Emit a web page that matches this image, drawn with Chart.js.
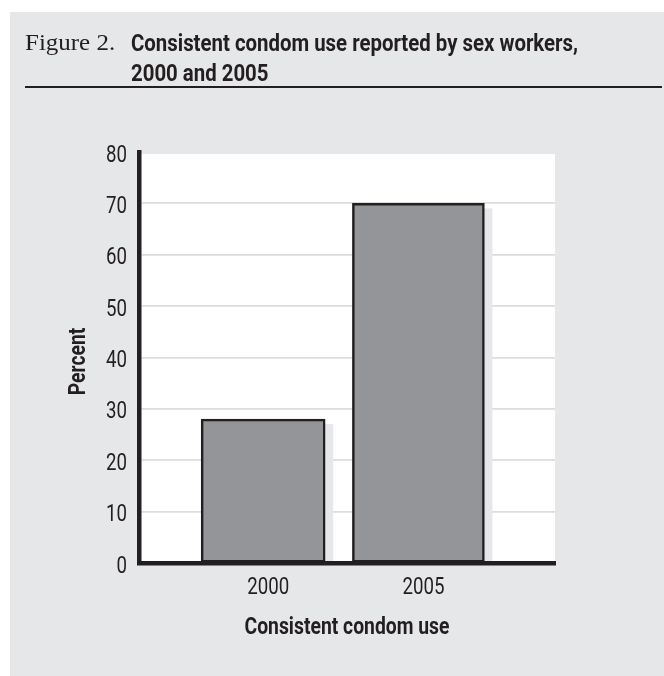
<!DOCTYPE html>
<html>
<head>
<meta charset="utf-8">
<script src="https://cdn.jsdelivr.net/npm/chart.js@4/dist/chart.umd.min.js"></script>
<style>
  html, body { margin: 0; padding: 0; background: #ffffff; }
  #page { position: relative; width: 664px; height: 676px; overflow: hidden; }
  #panel { position: absolute; left: 10px; top: 12px; width: 654px; height: 664px; background: #e6e7e8; }
  #rule { position: absolute; left: 25px; top: 86px; width: 637px; height: 1.5px; background: #231f20; }
  #chart { position: absolute; left: 0; top: 0; }
</style>
</head>
<body>
<div id="page">
  <div id="panel"></div>
  <div id="rule"></div>
  <canvas id="chart" width="664" height="676"></canvas>
</div>
<script>
// Consistent condom use among sex workers, by survey year
const years = [2000, 2005];
const percentUse = [28, 70];
const yTicks = [0, 10, 20, 30, 40, 50, 60, 70, 80];
const figureLabel = 'Figure 2.';
const headingLines = ['Consistent condom use reported by sex workers,', '2000 and 2005'];
const xTitle = 'Consistent condom use';
const yTitle = 'Percent';

const ink = '#231f20';
const barFill = '#939598';
const panelGrey = '#e6e7e8';
const sans = 'Roboto, "Liberation Sans", sans-serif';
const serif = '"Liberation Serif", "DejaVu Serif", serif';

// Draw text squeezed horizontally to give a condensed face
function squeezed(ctx, text, x, y, font, sx, align, rotate) {
  ctx.save();
  ctx.font = font;
  ctx.fillStyle = ink;
  ctx.textBaseline = 'alphabetic';
  ctx.textAlign = align;
  ctx.translate(x, y);
  if (rotate) ctx.rotate(rotate);
  ctx.scale(sx, 1);
  ctx.fillText(text, 0, 0);
  ctx.restore();
}
function widthOf(ctx, text, font) {
  ctx.save();
  ctx.font = font;
  const w = ctx.measureText(text).width;
  ctx.restore();
  return w;
}

// White plotting field behind the grid
const plotBackground = {
  id: 'plotBackground',
  beforeDraw(chart) {
    const { ctx, chartArea: a } = chart;
    ctx.save();
    ctx.fillStyle = '#ffffff';
    ctx.fillRect(a.left, a.top + 2, a.right - a.left, a.bottom - a.top - 2);
    ctx.restore();
  }
};

// Flat drop shadow offset down and to the right of each bar
const barShadow = {
  id: 'barShadow',
  beforeDatasetsDraw(chart) {
    const { ctx, chartArea: a } = chart;
    ctx.save();
    ctx.beginPath();
    ctx.rect(a.left, a.top, a.right - a.left, a.bottom - a.top);
    ctx.clip();
    ctx.fillStyle = panelGrey;
    chart.data.datasets.forEach((ds, i) => {
      chart.getDatasetMeta(i).data.forEach(bar => {
        const p = bar.getProps(['x', 'y', 'base', 'width'], true);
        ctx.fillRect(p.x - p.width / 2 + 8, p.y + 5, p.width, p.base - p.y);
      });
    });
    ctx.restore();
  }
};

// Heading, tick labels and axis titles in a condensed style
const condensedText = {
  id: 'condensedText',
  afterDraw(chart) {
    const { ctx, chartArea: a, scales } = chart;
    const reg = '24px ' + sans;
    const bold = 'bold 24px ' + sans;
    const regSx = 42 / widthOf(ctx, '2000', reg);
    const boldSx = 205 / widthOf(ctx, xTitle, bold);
    const headSx = 447 / widthOf(ctx, headingLines[0], bold);

    squeezed(ctx, figureLabel, 25, 50, '24px ' + serif, 1.04, 'left');
    squeezed(ctx, headingLines[0], 131, 51, bold, headSx, 'left');
    squeezed(ctx, headingLines[1], 131, 81, bold, headSx, 'left');

    yTicks.forEach(v => {
      squeezed(ctx, String(v), a.left - 12, scales.y.getPixelForValue(v) + 9.5, reg, regSx, 'right');
    });
    years.forEach(v => {
      squeezed(ctx, String(v), scales.x.getPixelForValue(v) + 5, a.bottom + 31, reg, regSx, 'center');
    });
    squeezed(ctx, xTitle, (a.left + a.right) / 2, a.bottom + 71, bold, boldSx, 'center');
    squeezed(ctx, yTitle, 85, (a.top + a.bottom) / 2 + 4, bold, boldSx, 'center', -Math.PI / 2);
  }
};

const barWidths = [124, 132];

new Chart(document.getElementById('chart'), {
  type: 'bar',
  data: {
    datasets: years.map((yr, i) => ({
      data: [{ x: yr, y: percentUse[i] }],
      backgroundColor: barFill,
      borderColor: ink,
      borderWidth: 2.5,
      borderSkipped: false,
      barThickness: barWidths[i],
      grouped: false
    }))
  },
  options: {
    responsive: false,
    animation: false,
    events: [],
    layout: { padding: { left: 0, top: 152, right: 109, bottom: 36 } },
    plugins: { legend: { display: false }, tooltip: { enabled: false } },
    scales: {
      x: {
        type: 'linear',
        offset: false,
        min: 1996,
        max: 2009.4,
        afterBuildTicks(scale) { scale.ticks = years.map(v => ({ value: v })); },
        afterFit(scale) { scale.height = 77; },
        grid: { display: false, drawTicks: false },
        border: { display: true, color: ink, width: 4.5, z: 1 },
        ticks: { display: false },
        title: { display: false }
      },
      y: {
        min: 0,
        max: 80,
        afterBuildTicks(scale) { scale.ticks = yTicks.map(v => ({ value: v })); },
        afterFit(scale) { scale.width = 139; },
        grid: {
          drawTicks: false,
          lineWidth: 1.8,
          color: ctx => (ctx.tick && (ctx.tick.value === 0 || ctx.tick.value === 80)) ? 'rgba(0,0,0,0)' : '#dcdddf'
        },
        border: { display: true, color: ink, width: 4.5, z: 1 },
        ticks: { display: false },
        title: { display: false }
      }
    }
  },
  plugins: [plotBackground, barShadow, condensedText]
});
</script>
</body>
</html>
